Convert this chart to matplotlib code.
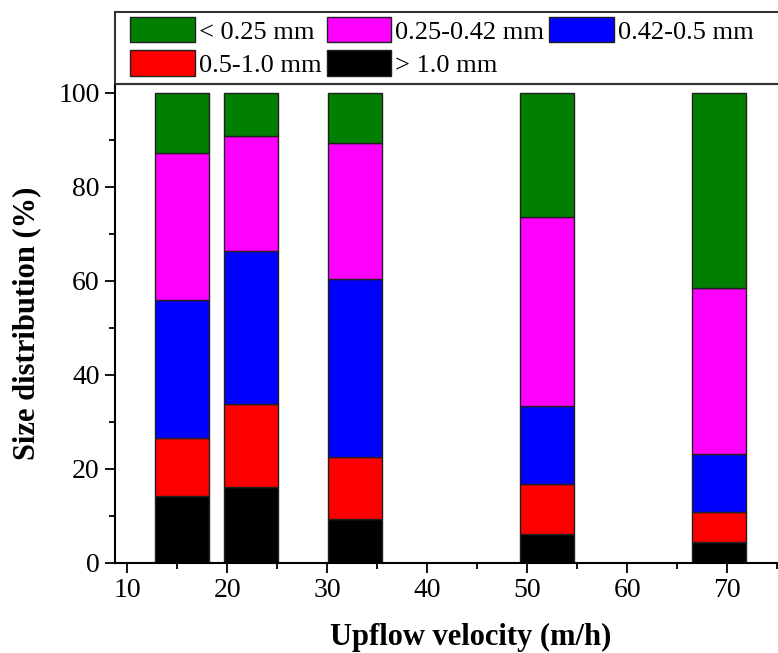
import matplotlib.pyplot as plt
from matplotlib.patches import Rectangle
from matplotlib.ticker import MultipleLocator

plt.rcParams["font.family"] = ["Liberation Serif", "DejaVu Serif"]

# Upflow velocity (bar centres, m/h) and size fractions (%)
velocity = [15.5, 22.4, 32.8, 52.0, 69.2]
gt_1_0 = [14.3, 16.2, 9.3, 6.2, 4.5]
r_05_10 = [12.2, 17.6, 13.3, 10.6, 6.3]
r_042_05 = [29.5, 32.6, 37.8, 16.5, 12.4]
r_025_042 = [31.2, 24.5, 29.0, 40.4, 35.2]
lt_025 = [12.8, 9.1, 10.6, 26.3, 41.6]

series = [
    ("> 1.0 mm", gt_1_0, "black"),
    ("0.5-1.0 mm", r_05_10, "#ff0000"),
    ("0.42-0.5 mm", r_042_05, "#0000ff"),
    ("0.25-0.42 mm", r_025_042, "#ff00ff"),
    ("< 0.25 mm", lt_025, "#007f00"),
]

fig = plt.figure(figsize=(7.78, 6.53), dpi=100)
ax = fig.add_axes([114.8 / 778, 90 / 653, 712.5 / 778, 479 / 653])

bottom = [0] * len(velocity)
handles = {}
for name, vals, col in series:
    b = ax.bar(velocity, vals, width=5.4, bottom=bottom, color=col,
               edgecolor="#202020", linewidth=1.0, label=name)
    handles[name] = b
    bottom = [a + v for a, v in zip(bottom, vals)]

ax.set_xlim(8.75, 80)
ax.set_ylim(0, 101.9)
ax.set_xticks([10, 20, 30, 40, 50, 60, 70])
ax.xaxis.set_minor_locator(MultipleLocator(5))
ax.set_yticks([0, 20, 40, 60, 80, 100])
ax.yaxis.set_minor_locator(MultipleLocator(10))
ax.tick_params(which="major", direction="out", length=7.5, width=1.3, labelsize=20)
ax.tick_params(which="minor", direction="out", length=4, width=1.3)
for s in ax.spines.values():
    s.set_linewidth(1.5)

ax.set_xlabel("Upflow velocity (m/h)", fontsize=22, fontweight="bold", labelpad=14)
ax.set_ylabel("Size distribution (%)", fontsize=22, fontweight="bold", labelpad=12)

order = ["< 0.25 mm", "0.5-1.0 mm", "0.25-0.42 mm", "> 1.0 mm", "0.42-0.5 mm"]
ax.legend([handles[k] for k in order], order, ncol=3, loc="upper left",
          bbox_to_anchor=(130 / 778, 1 - 17 / 653), bbox_transform=fig.transFigure,
          frameon=False, fontsize=19, handlelength=2.45, handleheight=1.1,
          handletextpad=0.15, columnspacing=0.2, labelspacing=0.25,
          borderpad=0, borderaxespad=0)

fig.patches.append(Rectangle((114.8 / 778, 1 - 84 / 653), 0.95, 72 / 653,
                             transform=fig.transFigure, fill=False,
                             edgecolor="#333333", linewidth=1.5))

fig.savefig("out.png", dpi=100)
